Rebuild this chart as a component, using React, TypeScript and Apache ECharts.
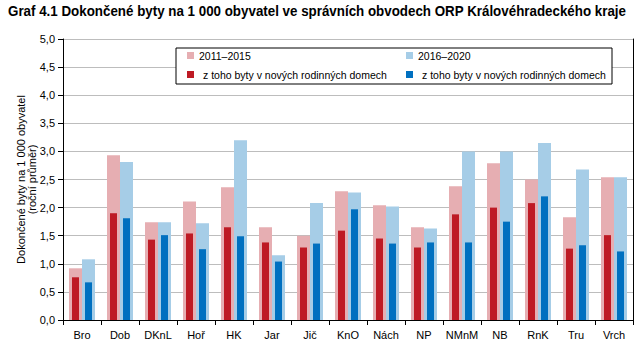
import React, { useEffect, useRef } from "react";
import * as echarts from "echarts";

const categories = ["Bro", "Dob", "DKnL", "Hoř", "HK", "Jar", "Jič", "KnO", "Nách", "NP", "NMnM", "NB", "RnK", "Tru", "Vrch"];
const total2011 = [0.92, 2.93, 1.74, 2.11, 2.36, 1.65, 1.50, 2.29, 2.04, 1.65, 2.38, 2.79, 2.50, 1.83, 2.54];
const total2016 = [1.08, 2.81, 1.74, 1.72, 3.20, 1.15, 2.08, 2.27, 2.02, 1.63, 3.00, 3.00, 3.15, 2.68, 2.54];
const family2011 = [0.76, 1.90, 1.43, 1.54, 1.65, 1.38, 1.29, 1.59, 1.45, 1.29, 1.88, 2.00, 2.08, 1.27, 1.51];
const family2016 = [0.67, 1.81, 1.51, 1.26, 1.49, 1.04, 1.36, 1.97, 1.36, 1.38, 1.38, 1.75, 2.20, 1.33, 1.22];
const yTicks = [0, 0.5, 1, 1.5, 2, 2.5, 3, 3.5, 4, 4.5, 5];

const TITLE = "Graf 4.1 Dokončené byty na 1 000 obyvatel ve správních obvodech ORP Královéhradeckého kraje";
const Y_NAME = "Dokončené byty na 1 000 obyvatel\n(roční průměr)";
const LEG_A = "2011–2015";
const LEG_B = "2016–2020";
const LEG_SUB = "z toho byty v nových rodinných domech";

const C_PINK = "#E6AEB2";
const C_LBLUE = "#A6CDE7";
const C_RED = "#BE1A24";
const C_BLUE = "#0070C0";
const FONT = "'Liberation Sans', Arial, sans-serif";

export default function App() {
  const ref = useRef<HTMLDivElement>(null);
  useEffect(() => {
    if (!ref.current) return;
    const chart = echarts.init(ref.current, null, { renderer: "svg" });
    const nameMap: Record<string, string> = {
      a: LEG_A,
      b: LEG_B,
      ra: LEG_SUB,
      rb: LEG_SUB,
    };
    const legendBase = {
      itemWidth: 7,
      itemHeight: 7,
      icon: "rect",
      itemGap: 0,
      z: 10,
      textStyle: { fontFamily: FONT, fontSize: 10.5, color: "#000" },
      formatter: (n: string) => nameMap[n],
    };
    chart.setOption({
      animation: false,
      backgroundColor: "#fff",
      legend: [
        { ...legendBase, data: ["a"], left: 182, top: 45 },
        { ...legendBase, data: ["b"], left: 401, top: 45 },
        { ...legendBase, data: ["ra"], left: 182, top: 64, textStyle: { ...legendBase.textStyle, padding: [0, 0, 0, 4] } },
        { ...legendBase, data: ["rb"], left: 401, top: 64, textStyle: { ...legendBase.textStyle, padding: [0, 0, 0, 4] } },
      ],
      graphic: [
        {
          type: "text",
          x: 8,
          y: 4,
          scaleX: 0.955,
          z: 10,
          style: {
            text: TITLE,
            fontFamily: FONT,
            fontWeight: "bold",
            fontSize: 14,
            fill: "#000",
            verticalAlign: "top",
          },
        },
        {
          type: "rect",
          z: 5,
          shape: { x: 176, y: 48, width: 436, height: 36 },
          style: { fill: "#fff", stroke: "#000", lineWidth: 1 },
        },
      ],
      grid: { left: 63, right: 7, top: 39, bottom: 33, containLabel: false },
      xAxis: [
        {
          type: "category",
          data: categories,
          axisLine: { lineStyle: { color: "#000", width: 1 } },
          axisTick: { show: true, length: 5, lineStyle: { color: "#000" } },
          axisLabel: { interval: 0, fontFamily: FONT, fontSize: 11, color: "#000", margin: 9 },
        },
        {
          type: "category",
          data: categories,
          show: false,
        },
      ],
      yAxis: [
        {
          type: "value",
          min: 0,
          max: 5,
          interval: 0.5,
          name: Y_NAME,
          nameLocation: "middle",
          nameGap: 26,
          nameMoveOverlap: false,
          nameTextStyle: { fontFamily: FONT, fontSize: 11, color: "#000", lineHeight: 11 },
          axisLine: { show: true, lineStyle: { color: "#000" } },
          axisTick: { show: true, length: 5, lineStyle: { color: "#000" } },
          axisLabel: {
            fontFamily: FONT,
            fontSize: 11,
            color: "#000",
            margin: 8,
            formatter: (v: number) => (yTicks.includes(v) ? v.toFixed(1).replace(".", ",") : ""),
          },
          splitLine: { show: true, lineStyle: { color: "#BDBDBD", width: 1 } },
        },
        {
          type: "value",
          min: 0,
          max: 5,
          interval: 0.5,
          position: "right",
          axisLine: { show: true, lineStyle: { color: "#000" } },
          axisTick: { show: false },
          axisLabel: { show: false },
          splitLine: { show: false },
        },
      ],
      series: [
        {
          name: "a",
          type: "bar",
          xAxisIndex: 0,
          data: total2011,
          barWidth: 13,
          barGap: "0%",
          itemStyle: { color: C_PINK },
          z: 2,
        },
        {
          name: "b",
          type: "bar",
          xAxisIndex: 0,
          data: total2016,
          barWidth: 13,
          barGap: "0%",
          itemStyle: { color: C_LBLUE },
          z: 2,
        },
        {
          name: "ra",
          type: "bar",
          xAxisIndex: 1,
          data: family2011,
          barWidth: 7,
          barGap: "86%",
          itemStyle: { color: C_RED },
          z: 3,
        },
        {
          name: "rb",
          type: "bar",
          xAxisIndex: 1,
          data: family2016,
          barWidth: 7,
          barGap: "86%",
          itemStyle: { color: C_BLUE },
          z: 3,
        },
      ],
    });
    return () => chart.dispose();
  }, []);
  return <div ref={ref} style={{ width: 640, height: 353, position: "absolute", left: 0, top: 0 }} />;
}
